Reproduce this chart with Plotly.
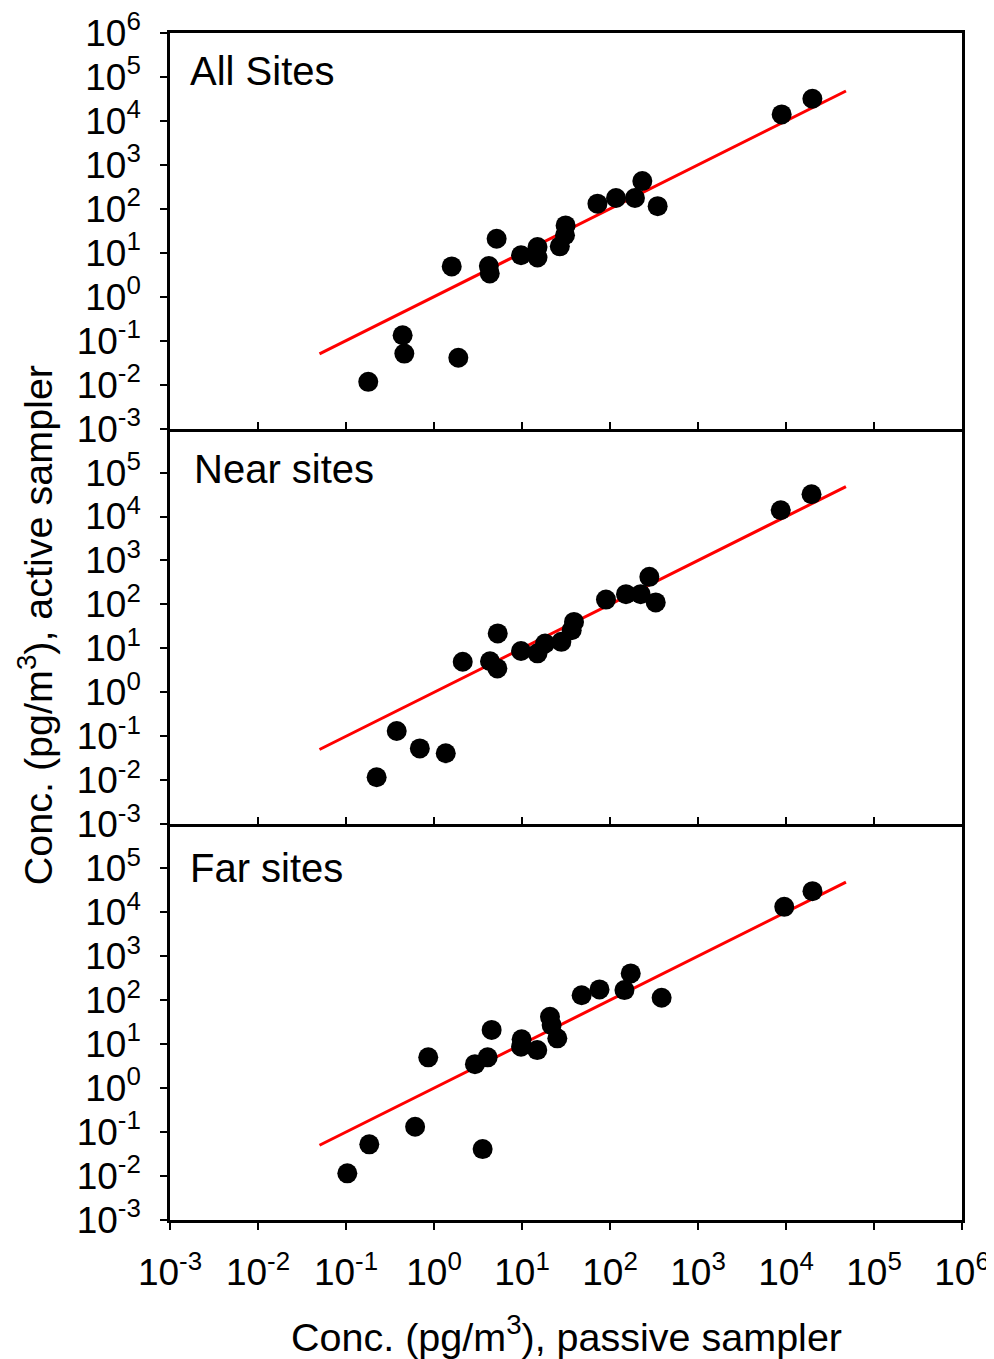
import plotly.graph_objects as go
from plotly.subplots import make_subplots

# ---- data (pg/m3) ----
panel_names = ["All Sites", "Near sites", "Far sites"]

x_all = [0.179, 0.44, 0.46, 1.89, 1.59, 4.2, 4.3, 5.15, 9.75, 15, 15, 26.9, 30.8, 31.3, 72, 117, 192, 233, 348, 8930, 19950]
y_all = [0.0116, 0.133, 0.051, 0.041, 4.9, 5.0, 3.4, 20.9, 8.8, 13.5, 7.8, 14, 25, 42, 131, 176, 176, 427, 115, 14050, 31900]

x_near = [0.223, 0.377, 0.69, 1.36, 2.12, 4.33, 5.25, 5.3, 9.75, 15, 18.3, 28, 36.7, 39, 90, 152, 223, 280, 331, 8710, 19500]
y_near = [0.0117, 0.132, 0.053, 0.041, 4.95, 5.1, 3.5, 21.9, 8.7, 7.7, 12.9, 14.1, 26, 40, 129, 171, 171, 424, 111, 13900, 32100]

x_far = [0.1035, 0.184, 0.61, 3.57, 0.86, 2.92, 4.07, 4.52, 9.9, 9.75, 14.9, 20.8, 21.7, 25.2, 47.6, 76, 146, 172, 386, 9550, 20000]
y_far = [0.0115, 0.0525, 0.132, 0.041, 5.0, 3.5, 5.0, 21, 12.8, 8.7, 7.3, 41.6, 27, 13.5, 129, 175, 169, 405, 113, 13200, 30000]

line_x = [0.05, 48000]
line_y = [0.05, 48000]

tick_exps = [-3, -2, -1, 0, 1, 2, 3, 4, 5, 6]

FONT = "Liberation Sans, Arial, sans-serif"
FS = 37

fig = make_subplots(rows=3, cols=1, shared_xaxes=False, vertical_spacing=0)

panels = [(x_all, y_all), (x_near, y_near), (x_far, y_far)]
for i, (xs, ys) in enumerate(panels, start=1):
    fig.add_trace(go.Scatter(x=line_x, y=line_y, mode="lines",
                             line=dict(color="#ff0000", width=3),
                             showlegend=False, hoverinfo="skip"), row=i, col=1)
    fig.add_trace(go.Scatter(x=xs, y=ys, mode="markers",
                             marker=dict(color="black", size=20, line=dict(width=0)),
                             showlegend=False), row=i, col=1)

def lab(e):
    return "10<sup>%d</sup>" % e

# page body has an 8px default margin; figure is drawn offset by it
OFF = 8
W, H = 994 - OFF, 1359 - OFF
top_px, bot_px = 32.5, 1220
ph = bot_px - top_px
bounds = [32.5, 428.3, 824.0, 1220.0]
for i in range(3):
    r = i + 1
    d0 = (bot_px - bounds[i + 1]) / ph
    d1 = (bot_px - bounds[i]) / ph
    yt = tick_exps if i == 0 else tick_exps[:-1]
    fig.update_yaxes(type="log", range=[-3, 6], domain=[max(d0, 0), min(d1, 1)],
                     tickvals=[10 ** e for e in yt], ticktext=[lab(e) for e in yt],
                     ticks="outside", ticklen=7, tickwidth=2, tickcolor="black",
                     showline=True, linecolor="black", linewidth=2.5, mirror=True,
                     showgrid=False, zeroline=False, automargin=False,
                     tickfont=dict(family=FONT, size=FS, color="black"),
                     ticklabelstandoff=12, ticklabeloverflow="allow",
                     row=r, col=1)
    fig.update_xaxes(type="log", range=[-3, 6],
                     tickvals=[10 ** e for e in tick_exps], ticktext=[lab(e) for e in tick_exps],
                     ticks="outside" if r == 3 else "inside", ticklen=7, tickwidth=2,
                     tickcolor="black",
                     showticklabels=(r == 3),
                     showline=True, linecolor="black", linewidth=2.5, mirror=(r == 1),
                     showgrid=False, zeroline=False, automargin=False,
                     tickfont=dict(family=FONT, size=FS, color="black"),
                     ticklabelstandoff=11, ticklabeloverflow="allow",
                     row=r, col=1)

def py(p):
    return (bot_px - p) / ph

TFS = 39.5
annotations = []
label_pos = [(188, 71), (192, 469), (188, 868)]
for name, (lx, ly) in zip(panel_names, label_pos):
    annotations.append(dict(text=name, xref="paper", yref="paper",
                            x=(lx - 170) / 792, y=py(ly), xanchor="left", yanchor="middle",
                            showarrow=False, font=dict(family=FONT, size=40, color="black")))
annotations.append(dict(text="Conc. (pg/m<sup>3</sup>), passive sampler", xref="paper", yref="paper",
                        x=0.5, y=py(1334), xanchor="center", yanchor="middle", showarrow=False,
                        font=dict(family=FONT, size=TFS, color="black")))
annotations.append(dict(text="Conc. (pg/m<sup>3</sup>), active sampler", xref="paper", yref="paper",
                        x=(36 - 170) / 792, y=py(625), xanchor="center", yanchor="middle",
                        textangle=-90, showarrow=False,
                        font=dict(family=FONT, size=TFS, color="black")))

fig.update_layout(width=W, height=H,
                  margin=dict(l=170 - OFF, r=994 - 962, t=32.5 - OFF, b=1359 - 1220,
                              pad=0, autoexpand=False),
                  paper_bgcolor="white", plot_bgcolor="white",
                  annotations=annotations, showlegend=False)

fig.write_html("out.html")
